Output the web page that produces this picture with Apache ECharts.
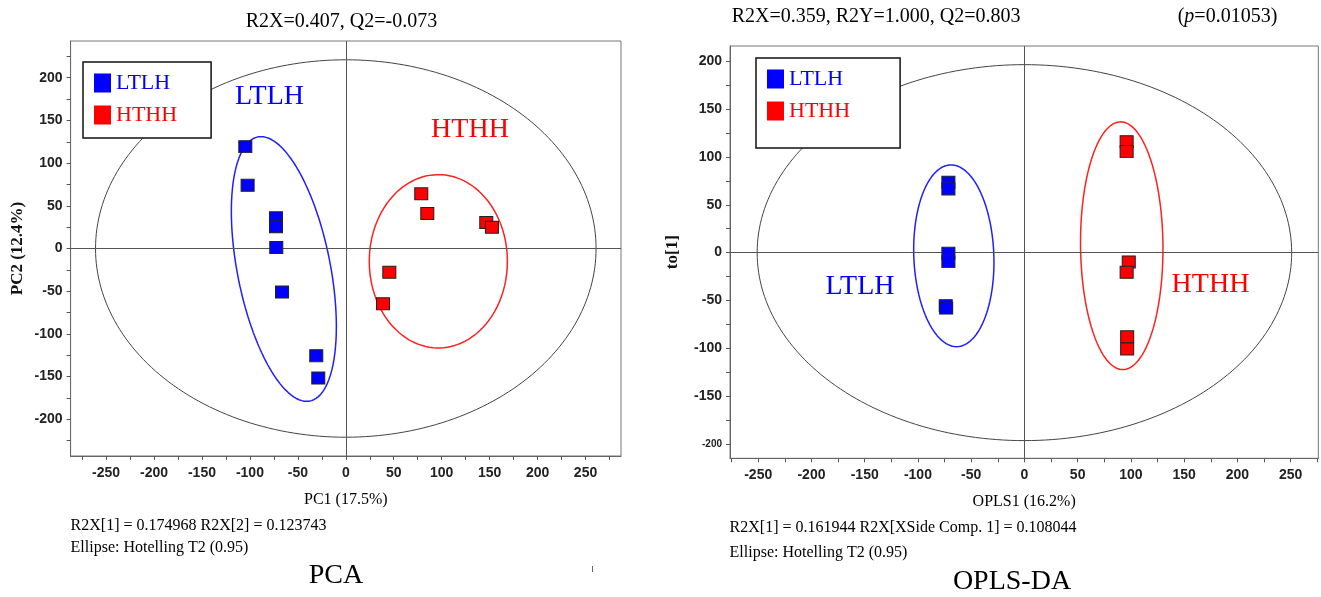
<!DOCTYPE html>
<html><head><meta charset="utf-8">
<script src="https://cdn.jsdelivr.net/npm/echarts@6/dist/echarts.min.js"></script>
<style>html,body{margin:0;padding:0;background:#fff}#c{width:1321px;height:597px}</style>
</head><body><div id="c"></div>
<script>
const groups = ['LTLH', 'HTHH'];
const groupColors = ['#0000ff', '#ff0000'];

// PCA scores [PC1, PC2]
const pcaLTLH = [[-104.8,119.3],[-102.4,74.0],[-72.8,35.9],[-72.8,25.4],[-72.5,1.2],[-66.5,-51.0],[-30.8,-125.5],[-28.7,-151.7]];
const pcaHTHH = [[78.7,64.0],[85.0,41.0],[146.5,30.4],[152.4,25.0],[45.4,-27.7],[38.8,-64.7]];
// OPLS-DA scores [OPLS1, to[1]]
const oplsLTLH = [[-71.4,73.6],[-71.4,66.6],[-71.4,-0.7],[-71.4,-9.4],[-73.9,-55.4],[-73.5,-58.0]];
const oplsHTHH = [[96.0,116.0],[96.0,105.6],[98.0,-9.7],[96.0,-20.5],[96.5,-88.0],[96.5,-100.7]];

// ellipses: [cx, cy, ux, uy, vx, vy]  (P = c + u cos t + v sin t)
const pcaT2 = [0, 0, 0, 221, 261, 0];
const pcaLTLHEllipse = [-64.6, -24, -23.8, 155, 49.3, 0];
const pcaHTHHEllipse = [96.5, -15, 0, 101.5, 72, 0];
const oplsT2 = [0, 0, 0, 196.5, 251, 0];
const oplsLTLHEllipse = [-66.3, -3.3, -2.6, 95, 37.6, 0];
const oplsHTHHEllipse = [91.4, 7.2, -1, 129.5, 38.7, 0];

// tick labels
const xLabelTicks = [-250,-200,-150,-100,-50,0,50,100,150,200,250];
const xMinorTicks = [-275,-250,-225,-200,-175,-150,-125,-100,-75,-50,-25,0,25,50,75,100,125,150,175,200,225,250,275];
const pcaYLabelTicks = [-200,-150,-100,-50,0,50,100,150,200];
const pcaYMinorTicks = [-225,-200,-175,-150,-125,-100,-75,-50,-25,0,25,50,75,100,125,150,175,200,225];
const oplsYLabelTicks = [-200,-150,-100,-50,0,50,100,150,200];
const oplsYMinorTicks = [-200,-175,-150,-125,-100,-75,-50,-25,0,25,50,75,100,125,150,175,200];

const SANS = "'Liberation Sans Narrow', 'Liberation Sans', Arial, sans-serif";
const SERIF = "'Liberation Serif', 'Times New Roman', serif";

function ellipsePts(e) {
  const pts = [];
  const N = 240;
  for (let i = 0; i <= N; i++) {
    const t = 2 * Math.PI * i / N;
    pts.push([e[0] + e[2] * Math.cos(t) + e[4] * Math.sin(t), e[1] + e[3] * Math.cos(t) + e[5] * Math.sin(t)]);
  }
  return pts;
}

function ellipseSeries(e, gi, color, width, withZero) {
  const s = {
    type: 'line', xAxisIndex: gi, yAxisIndex: gi, data: ellipsePts(e),
    showSymbol: false, symbol: 'none', silent: true, smooth: false,
    lineStyle: { color: color, width: width }, z: 2
  };
  if (withZero) {
    s.markLine = {
      silent: true, symbol: ['none', 'none'], label: { show: false },
      lineStyle: { color: '#555', width: 1, type: 'solid' },
      data: [{ xAxis: 0 }, { yAxis: 0 }]
    };
  }
  return s;
}

function scatterSeries(name, data, gi, color, size) {
  return {
    type: 'scatter', name: name, xAxisIndex: gi, yAxisIndex: gi, data: data,
    symbol: 'rect', symbolSize: size,
    itemStyle: { color: color, borderColor: '#222', borderWidth: 1, opacity: 1 },
    z: 5
  };
}

function xAxisCfg(gi, min, max, name, gap) {
  return {
    type: 'value', gridIndex: gi, min: min, max: max,
    splitLine: { show: false },
    axisLine: { show: true, onZero: false, lineStyle: { color: '#666', width: 1 } },
    axisTick: { show: true, customValues: xMinorTicks, length: 4, lineStyle: { color: '#555' } },
    axisLabel: { customValues: xLabelTicks, fontFamily: SANS, fontWeight: 'bold', fontSize: 14, color: '#222', margin: 10 },
    name: name, nameLocation: 'middle', nameGap: gap,
    nameTextStyle: { fontFamily: SERIF, fontSize: 16, color: '#000' }
  };
}

function yAxisCfg(gi, min, max, labels, minor, name, gap, formatter) {
  const a = {
    type: 'value', gridIndex: gi, min: min, max: max,
    splitLine: { show: false },
    axisLine: { show: true, onZero: false, lineStyle: { color: '#666', width: 1 } },
    axisTick: { show: true, customValues: minor, length: 4, lineStyle: { color: '#555' } },
    axisLabel: { customValues: labels, fontFamily: SANS, fontWeight: 'bold', fontSize: 14, color: '#222', margin: 8 },
    name: name, nameLocation: 'middle', nameGap: gap, nameRotate: 90,
    nameTextStyle: { fontFamily: SERIF, fontWeight: 'bold', fontSize: 17, color: '#111' }
  };
  if (formatter) {
    a.axisLabel.formatter = formatter;
    a.axisLabel.rich = {
      n: { fontFamily: SANS, fontWeight: 'bold', fontSize: 14, color: '#222' },
      s: { fontFamily: SANS, fontWeight: 'bold', fontSize: 10, color: '#222' }
    };
  }
  return a;
}

function legendCfg(left, top, padding) {
  return {
    orient: 'vertical', left: left, top: top, icon: 'rect',
    itemWidth: 17, itemHeight: 19, itemGap: 10, padding: padding,
    borderColor: '#111', borderWidth: 1.5, backgroundColor: '#fff',
    selectedMode: false, z: 10,
    itemStyle: { borderWidth: 0 },
    textStyle: { fontFamily: SERIF, fontSize: 22 },
    data: [
      { name: groups[0], textStyle: { color: groupColors[0] } },
      { name: groups[1], textStyle: { color: groupColors[1] } }
    ]
  };
}

function txt(x, y, text, size, color, align, extra) {
  const o = {
    type: 'text', x: x, y: y, z: 20, silent: true,
    style: Object.assign({
      text: text, fill: color, fontFamily: SERIF, fontSize: size,
      align: align, textAlign: align, verticalAlign: 'middle', textVerticalAlign: 'middle'
    }, extra || {})
  };
  return o;
}

const chart = echarts.init(document.getElementById('c'), null, { renderer: 'canvas' });
chart.setOption({
  animation: false,
  backgroundColor: '#fff',
  grid: [
    { left: 70.6, top: 41, width: 550.4, height: 415, show: true, borderColor: '#777', borderWidth: 1, containLabel: false },
    { left: 730, top: 46, width: 588.3, height: 412.3, show: true, borderColor: '#777', borderWidth: 1, containLabel: false }
  ],
  xAxis: [
    xAxisCfg(0, -287, 287, 'PC1 (17.5%)', 36),
    xAxisCfg(1, -276.5, 276, 'OPLS1 (16.2%)', 35)
  ],
  yAxis: [
    yAxisCfg(0, -243, 243, pcaYLabelTicks, pcaYMinorTicks, 'PC2 (12.4%)', 44),
    yAxisCfg(1, -215, 216, oplsYLabelTicks, oplsYMinorTicks, 'to[1]', 49,
      v => (v === -200 ? '{s|' + v + '}' : '{n|' + v + '}'))
  ],
  legend: [
    legendCfg(83, 62, [10, 34, 12, 11]),
    legendCfg(756, 58, [10, 50, 26, 11])
  ],
  series: [
    ellipseSeries(pcaT2, 0, '#444', 1, true),
    ellipseSeries(pcaLTLHEllipse, 0, '#1f1fff', 1.5, false),
    ellipseSeries(pcaHTHHEllipse, 0, '#ff2020', 1.5, false),
    scatterSeries(groups[0], pcaLTLH, 0, groupColors[0], [13, 12]),
    scatterSeries(groups[1], pcaHTHH, 0, groupColors[1], [13, 12]),
    ellipseSeries(oplsT2, 1, '#444', 1, true),
    ellipseSeries(oplsLTLHEllipse, 1, '#1f1fff', 1.5, false),
    ellipseSeries(oplsHTHHEllipse, 1, '#ff2020', 1.5, false),
    scatterSeries(groups[0], oplsLTLH, 1, groupColors[0], [13, 12]),
    scatterSeries(groups[1], oplsHTHH, 1, groupColors[1], [13, 12])
  ],
  graphic: [
    txt(341.5, 21.5, 'R2X=0.407, Q2=-0.073', 20, '#000', 'center'),
    txt(731.7, 17, 'R2X=0.359, R2Y=1.000, Q2=0.803', 20, '#000', 'left'),
    txt(1177.7, 17, '({i|p}=0.01053)', 20, '#000', 'left',
      { rich: { i: { fontStyle: 'italic', fontFamily: SERIF, fontSize: 20, fill: '#000', color: '#000' } } }),
    txt(269.5, 97, 'LTLH', 28, '#0000ff', 'center'),
    txt(470, 130, 'HTHH', 28, '#ff0000', 'center'),
    txt(860, 287, 'LTLH', 28, '#0000ff', 'center'),
    txt(1210.5, 285, 'HTHH', 28, '#ff0000', 'center'),
    txt(70.6, 526, 'R2X[1] = 0.174968 R2X[2] = 0.123743', 16, '#000', 'left'),
    txt(70.6, 548, 'Ellipse: Hotelling T2 (0.95)', 16, '#000', 'left'),
    txt(729.6, 528, 'R2X[1] = 0.161944 R2X[XSide Comp. 1] = 0.108044', 16, '#000', 'left'),
    txt(729.6, 553, 'Ellipse: Hotelling T2 (0.95)', 16, '#000', 'left'),
    txt(336, 576, 'PCA', 28, '#000', 'center'),
    txt(1012, 582, 'OPLS-DA', 28, '#000', 'center'),
    { type: 'line', silent: true, z: 20, shape: { x1: 592.5, y1: 566, x2: 592.5, y2: 572 }, style: { stroke: '#666', lineWidth: 1 } }
  ]
});
</script>
</body></html>
